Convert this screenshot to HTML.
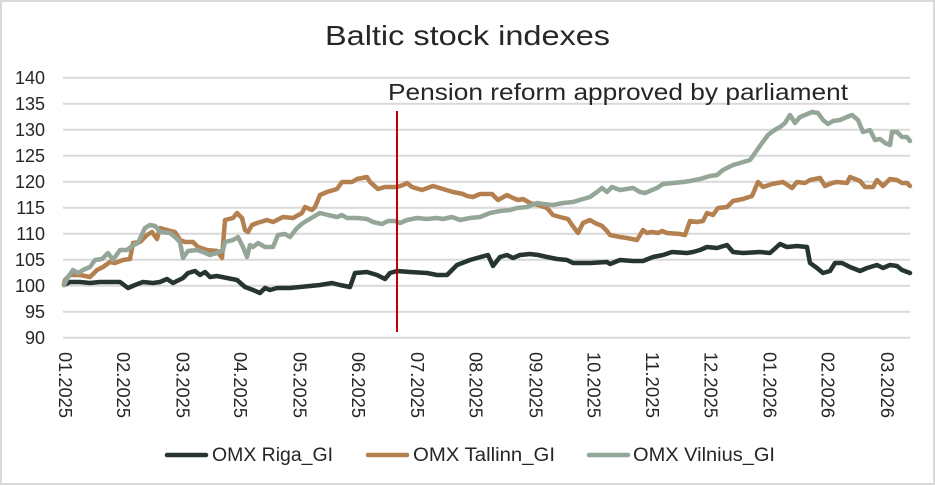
<!DOCTYPE html>
<html>
<head>
<meta charset="utf-8">
<style>
  html, body { margin: 0; padding: 0; background: #ffffff; }
  svg { display: block; }
  text { font-family: "Liberation Sans", sans-serif; fill: #262626; }
</style>
</head>
<body>
<svg width="935" height="486" viewBox="0 0 935 486" xmlns="http://www.w3.org/2000/svg">
  <rect x="0" y="0" width="935" height="486" fill="#ffffff"/>
  <rect x="1" y="1" width="933" height="483" fill="none" stroke="#d9d9d9" stroke-width="2"/>

  <!-- Title -->
  <text x="325" y="45" font-size="28" textLength="285" lengthAdjust="spacingAndGlyphs">Baltic stock indexes</text>

  <!-- Gridlines -->
  <g stroke="#d9d9d9" stroke-width="2">
    <line x1="63" y1="77.7" x2="910" y2="77.7"/>
    <line x1="63" y1="103.7" x2="910" y2="103.7"/>
    <line x1="63" y1="129.7" x2="910" y2="129.7"/>
    <line x1="63" y1="155.7" x2="910" y2="155.7"/>
    <line x1="63" y1="181.7" x2="910" y2="181.7"/>
    <line x1="63" y1="207.7" x2="910" y2="207.7"/>
    <line x1="63" y1="233.7" x2="910" y2="233.7"/>
    <line x1="63" y1="259.7" x2="910" y2="259.7"/>
    <line x1="63" y1="285.7" x2="910" y2="285.7"/>
    <line x1="63" y1="311.7" x2="910" y2="311.7"/>
    <line x1="63" y1="337.7" x2="910" y2="337.7"/>
  </g>

  <!-- Y labels -->
  <g font-size="18" text-anchor="end">
    <text x="45" y="84">140</text>
    <text x="45" y="110">135</text>
    <text x="45" y="136">130</text>
    <text x="45" y="162">125</text>
    <text x="45" y="188">120</text>
    <text x="45" y="214">115</text>
    <text x="45" y="240">110</text>
    <text x="45" y="266">105</text>
    <text x="45" y="292">100</text>
    <text x="45" y="318">95</text>
    <text x="45" y="344">90</text>
  </g>

  <!-- X labels (rotated 90deg) -->
  <g font-size="18">
    <text transform="translate(59,352) rotate(90)" textLength="66" lengthAdjust="spacingAndGlyphs">01.2025</text>
    <text transform="translate(117,352) rotate(90)" textLength="66" lengthAdjust="spacingAndGlyphs">02.2025</text>
    <text transform="translate(176.5,352) rotate(90)" textLength="66" lengthAdjust="spacingAndGlyphs">03.2025</text>
    <text transform="translate(234,352) rotate(90)" textLength="66" lengthAdjust="spacingAndGlyphs">04.2025</text>
    <text transform="translate(293.5,352) rotate(90)" textLength="66" lengthAdjust="spacingAndGlyphs">05.2025</text>
    <text transform="translate(352,352) rotate(90)" textLength="66" lengthAdjust="spacingAndGlyphs">06.2025</text>
    <text transform="translate(411,352) rotate(90)" textLength="66" lengthAdjust="spacingAndGlyphs">07.2025</text>
    <text transform="translate(469.5,352) rotate(90)" textLength="66" lengthAdjust="spacingAndGlyphs">08.2025</text>
    <text transform="translate(529.5,352) rotate(90)" textLength="66" lengthAdjust="spacingAndGlyphs">09.2025</text>
    <text transform="translate(587.5,352) rotate(90)" textLength="66" lengthAdjust="spacingAndGlyphs">10.2025</text>
    <text transform="translate(646,352) rotate(90)" textLength="66" lengthAdjust="spacingAndGlyphs">11.2025</text>
    <text transform="translate(704.5,352) rotate(90)" textLength="66" lengthAdjust="spacingAndGlyphs">12.2025</text>
    <text transform="translate(763.5,352) rotate(90)" textLength="66" lengthAdjust="spacingAndGlyphs">01.2026</text>
    <text transform="translate(821.5,352) rotate(90)" textLength="66" lengthAdjust="spacingAndGlyphs">02.2026</text>
    <text transform="translate(881,352) rotate(90)" textLength="66" lengthAdjust="spacingAndGlyphs">03.2026</text>
  </g>

  <!-- Series -->
  <g fill="none" stroke-width="4.5" stroke-linejoin="round" stroke-linecap="round">
    <polyline stroke="#26352f" points="64,285 70,282 80,282 90,283 100,282 110,282 120,282 128,288 135,285 143,282 153,283 160,282 167,279 173,283 183,278 188,273 195,271 200,275 205,272 210,277 217,276 227,278 237,280 245,287 253,290 260,293 265,288 270,290 277,288 290,288 300,287 310,286 320,285 332,283 340,285 350,287 355,273 367,272 377,275 385,279 390,273 397,271 410,272 427,273 437,275 447,275 457,265 470,260 477,258 488,255 493,266 500,257 507,255 513,258 520,255 530,254 538,255 547,257 557,259 567,260 573,263 590,263 607,262 610,264 620,260 633,261 643,261 653,257 663,255 672,252 687,253 693,252 700,250 707,247 717,248 727,245 733,252 743,253 760,252 770,253 780,244 787,247 797,246 807,247 810,263 817,268 823,273 830,271 835,263 842,263 850,267 860,271 867,268 877,265 883,268 890,265 897,266 902,270 910,273"/>
    <polyline stroke="#b5804f" points="64,284 65,280 70,275 80,275 90,277 97,270 103,267 110,262 115,263 123,260 130,259 133,243 140,242 147,235 152,232 157,239 160,228 167,230 175,232 180,240 185,242 193,242 198,247 207,250 217,251 222,258 223,245 225,220 233,218 237,213 242,218 245,230 248,232 252,225 257,223 267,220 273,222 283,217 293,218 302,213 305,207 312,210 315,207 320,195 327,192 337,189 342,182 352,182 357,179 367,177 370,182 378,189 385,187 397,187 403,185 407,183 412,187 422,190 433,186 443,189 453,192 463,194 467,196 473,197 480,194 492,194 498,200 507,195 513,198 518,200 523,199 530,203 538,205 547,208 553,215 560,217 568,219 572,225 578,233 583,223 590,220 595,223 602,226 607,231 610,235 620,237 627,238 637,240 643,230 647,233 652,232 658,233 662,231 667,233 680,234 685,235 690,221 697,222 703,221 707,213 713,215 718,208 727,207 733,201 743,199 752,196 758,182 763,187 772,184 783,182 792,188 797,182 805,183 810,180 820,178 825,186 832,183 837,182 847,183 850,177 860,181 865,187 873,187 877,180 883,186 890,179 897,180 902,183 907,183 910,186"/>
    <polyline stroke="#93a698" points="64,285 68,277 73,270 78,273 83,270 90,267 95,260 102,259 108,253 113,260 120,250 127,250 132,246 138,243 145,228 150,225 155,226 160,232 170,233 175,237 180,242 183,258 188,251 197,250 203,252 210,255 217,253 223,250 225,242 233,240 238,237 243,247 247,257 250,245 253,247 258,243 265,247 273,247 278,235 285,234 290,237 297,228 303,223 313,217 320,213 328,215 337,217 342,215 347,218 357,218 367,219 373,222 382,224 388,221 395,221 400,223 407,220 417,218 427,219 437,218 443,219 452,217 460,220 470,218 480,217 490,213 500,211 510,210 517,208 527,207 537,203 543,204 553,205 563,203 573,202 583,199 590,197 597,192 602,188 607,192 612,187 620,190 633,188 640,192 645,193 652,190 657,188 663,184 673,183 683,182 690,181 700,179 710,176 717,175 723,170 733,165 740,163 750,160 755,153 762,143 768,135 773,131 780,127 785,123 790,115 795,123 800,117 805,115 812,112 818,113 823,120 828,124 833,121 840,120 847,117 852,115 858,120 863,132 870,130 875,140 880,139 885,143 890,145 892,132 897,132 902,137 907,137 910,141"/>
  </g>

  <!-- Event line -->
  <line x1="397" y1="111" x2="397" y2="332" stroke="#c00000" stroke-width="2"/>
  <text x="388" y="100" font-size="23" textLength="460" lengthAdjust="spacingAndGlyphs">Pension reform approved by parliament</text>

  <!-- Legend -->
  <g stroke-width="4.5" stroke-linecap="round">
    <line x1="167" y1="455" x2="206" y2="455" stroke="#26352f"/>
    <line x1="368" y1="455" x2="407" y2="455" stroke="#b5804f"/>
    <line x1="589" y1="455" x2="628" y2="455" stroke="#93a698"/>
  </g>
  <g font-size="19">
    <text x="212" y="461" textLength="121" lengthAdjust="spacingAndGlyphs">OMX Riga_GI</text>
    <text x="413" y="461" textLength="142" lengthAdjust="spacingAndGlyphs">OMX Tallinn_GI</text>
    <text x="633" y="461" textLength="142" lengthAdjust="spacingAndGlyphs">OMX Vilnius_GI</text>
  </g>
</svg>
</body>
</html>
